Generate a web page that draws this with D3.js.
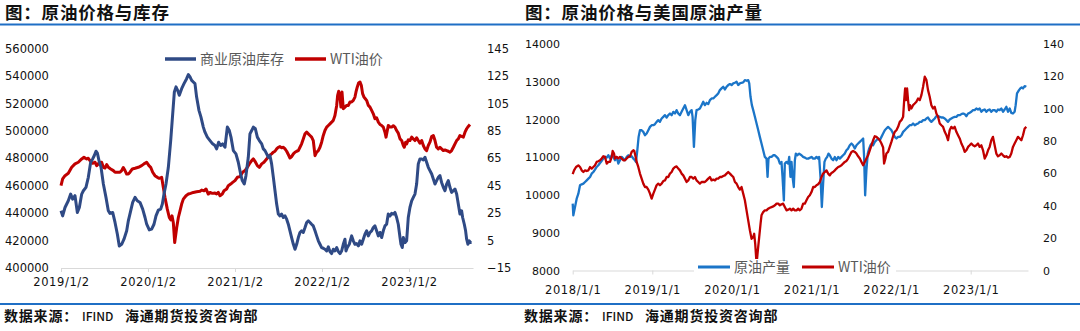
<!DOCTYPE html>
<html><head><meta charset="utf-8">
<script src="https://cdn.jsdelivr.net/npm/d3@7"></script>
<style>body{margin:0;background:#fff}svg{display:block}</style>
</head><body>
<svg id="c" width="1080" height="331"></svg>
<script>
// ---------- DATA (x = decimal year, y = value) ----------
const inventory = [
[2019.000,441700],[2019.019,438000],[2019.046,444100],[2019.084,449000],[2019.111,453900],[2019.134,450200],[2019.161,452700],[2019.188,440500],[2019.211,444100],[2019.238,453900],[2019.257,456300],[2019.287,458800],[2019.314,466100],[2019.341,477100],[2019.364,479500],[2019.383,482000],[2019.402,485100],[2019.418,483700],[2019.437,478300],[2019.460,473400],[2019.487,461200],[2019.517,451500],[2019.544,441700],[2019.563,439800],[2019.594,440500],[2019.621,433200],[2019.648,424600],[2019.670,416100],[2019.697,417300],[2019.724,421000],[2019.755,427100],[2019.774,434400],[2019.801,441700],[2019.824,447800],[2019.851,451500],[2019.877,449000],[2019.908,447800],[2019.939,442900],[2019.966,436800],[2019.985,431900],
[2020.015,427800],[2020.042,428300],[2020.069,431900],[2020.092,438000],[2020.119,442200],[2020.146,442900],[2020.165,446600],[2020.184,453900],[2020.207,461200],[2020.234,473400],[2020.261,492900],[2020.284,512400],[2020.303,528300],[2020.322,532000],[2020.341,529500],[2020.360,525900],[2020.387,530700],[2020.414,534400],[2020.444,538000],[2020.464,541000],[2020.483,539300],[2020.502,536800],[2020.521,535600],[2020.540,534400],[2020.559,524600],[2020.586,514900],[2020.609,510000],[2020.636,502700],[2020.655,499000],[2020.682,495400],[2020.713,492900],[2020.743,490500],[2020.770,489300],[2020.789,486800],[2020.812,491700],[2020.835,489300],[2020.858,490500],[2020.885,488000],[2020.912,502700],[2020.935,500200],[2020.954,495400],[2020.981,485600],
[2021.011,483200],[2021.038,477100],[2021.065,468500],[2021.084,463700],[2021.107,461200],[2021.126,467300],[2021.153,480700],[2021.172,497800],[2021.192,500200],[2021.211,502700],[2021.234,501500],[2021.257,495400],[2021.280,492900],[2021.307,490500],[2021.326,486800],[2021.345,485600],[2021.364,483200],[2021.383,480700],[2021.402,482000],[2021.421,475900],[2021.441,466100],[2021.460,456300],[2021.479,446600],[2021.498,439300],[2021.517,438000],[2021.536,439300],[2021.556,436800],[2021.575,438000],[2021.594,435600],[2021.613,431900],[2021.632,427100],[2021.651,422200],[2021.671,417300],[2021.690,413700],[2021.709,417300],[2021.728,422200],[2021.747,425900],[2021.766,427100],[2021.785,425900],[2021.805,429500],[2021.824,433200],[2021.843,434400],[2021.862,433200],[2021.881,431900],[2021.900,430700],[2021.920,427100],[2021.939,423400],[2021.958,419800],[2021.977,417300],[2021.996,414900],
[2022.015,414400],[2022.034,413700],[2022.054,412400],[2022.073,415400],[2022.092,412000],[2022.111,410500],[2022.130,413700],[2022.149,412400],[2022.169,414900],[2022.188,412000],[2022.207,410500],[2022.226,412400],[2022.245,417300],[2022.264,421000],[2022.276,412400],[2022.291,414900],[2022.314,417300],[2022.341,423400],[2022.360,419800],[2022.379,417300],[2022.398,417800],[2022.418,416100],[2022.437,419800],[2022.456,417300],[2022.475,421000],[2022.494,424600],[2022.513,427100],[2022.533,423400],[2022.552,425900],[2022.571,427100],[2022.590,429500],[2022.609,430700],[2022.628,427100],[2022.648,423400],[2022.667,425900],[2022.686,422200],[2022.705,427100],[2022.724,430700],[2022.743,431900],[2022.762,439300],[2022.782,438000],[2022.801,439800],[2022.820,439300],[2022.839,440500],[2022.858,436800],[2022.877,431900],[2022.897,422200],[2022.908,417300],[2022.923,414900],[2022.935,422200],[2022.954,418500],[2022.973,419800],[2022.992,436800],
[2023.011,444100],[2023.031,449000],[2023.050,451500],[2023.069,453900],[2023.088,461200],[2023.107,475900],[2023.126,479500],[2023.146,479500],[2023.165,478800],[2023.184,480700],[2023.203,477100],[2023.222,473400],[2023.241,471000],[2023.261,468500],[2023.280,464900],[2023.299,461200],[2023.318,463700],[2023.337,466100],[2023.356,467300],[2023.375,462400],[2023.395,458800],[2023.414,456300],[2023.433,461200],[2023.452,463700],[2023.471,458800],[2023.490,455100],[2023.510,456300],[2023.529,457600],[2023.548,453900],[2023.567,446600],[2023.586,439300],[2023.605,441700],[2023.617,436800],[2023.636,431900],[2023.651,427100],[2023.663,421000],[2023.678,417300],[2023.693,419800],[2023.709,418500],[2023.720,418500]
];
const wtiLeft = [
[2019.000,45.0],[2019.019,49.9],[2019.046,52.3],[2019.084,54.0],[2019.123,58.4],[2019.161,60.9],[2019.199,62.1],[2019.238,64.5],[2019.264,65.7],[2019.295,64.5],[2019.314,65.0],[2019.333,63.3],[2019.364,61.3],[2019.391,62.1],[2019.410,59.6],[2019.429,60.9],[2019.441,62.1],[2019.467,62.1],[2019.487,58.4],[2019.506,57.9],[2019.525,60.4],[2019.544,58.4],[2019.571,57.2],[2019.602,56.0],[2019.621,54.8],[2019.648,54.8],[2019.678,54.8],[2019.697,56.0],[2019.716,58.2],[2019.736,56.0],[2019.755,53.5],[2019.774,53.5],[2019.793,54.8],[2019.820,57.2],[2019.851,57.7],[2019.889,58.4],[2019.927,59.6],[2019.954,60.9],[2019.985,62.1],
[2020.011,59.6],[2020.031,58.4],[2020.054,54.8],[2020.080,52.3],[2020.107,51.1],[2020.130,50.4],[2020.157,51.1],[2020.176,43.8],[2020.195,36.5],[2020.222,27.9],[2020.245,21.8],[2020.261,20.1],[2020.276,23.0],[2020.291,18.2],[2020.307,3.5],[2020.330,14.5],[2020.349,21.8],[2020.368,26.7],[2020.387,31.6],[2020.406,35.2],[2020.437,37.7],[2020.464,38.9],[2020.490,39.4],[2020.521,40.1],[2020.559,40.6],[2020.598,40.9],[2020.617,41.8],[2020.644,41.3],[2020.667,42.6],[2020.693,38.9],[2020.713,40.1],[2020.739,39.4],[2020.770,39.6],[2020.789,38.9],[2020.808,40.1],[2020.828,37.7],[2020.854,38.9],[2020.874,41.3],[2020.904,42.6],[2020.923,45.0],[2020.950,46.2],[2020.973,47.4],
[2021.000,48.7],[2021.027,51.1],[2021.057,51.6],[2021.088,54.8],[2021.115,56.0],[2021.142,58.4],[2021.165,60.9],[2021.192,63.3],[2021.211,64.5],[2021.230,62.8],[2021.257,59.6],[2021.280,58.4],[2021.307,60.9],[2021.333,62.1],[2021.364,64.5],[2021.395,67.0],[2021.421,68.2],[2021.441,69.4],[2021.460,70.1],[2021.479,71.8],[2021.498,73.0],[2021.517,73.5],[2021.536,72.6],[2021.556,73.0],[2021.575,71.8],[2021.594,70.1],[2021.613,67.7],[2021.632,65.2],[2021.651,66.2],[2021.671,68.2],[2021.690,69.4],[2021.709,70.1],[2021.728,70.6],[2021.747,73.0],[2021.766,75.5],[2021.785,79.1],[2021.805,82.8],[2021.824,84.0],[2021.843,82.8],[2021.862,81.6],[2021.881,80.4],[2021.900,77.9],[2021.920,66.9],[2021.939,69.4],[2021.958,70.6],[2021.977,73.0],[2021.996,76.7],
[2022.015,81.6],[2022.034,85.2],[2022.054,87.7],[2022.073,88.9],[2022.092,90.1],[2022.111,91.3],[2022.130,92.6],[2022.149,96.2],[2022.169,103.5],[2022.180,110.9],[2022.192,113.8],[2022.207,109.6],[2022.218,102.3],[2022.230,113.3],[2022.245,101.1],[2022.264,102.3],[2022.284,103.5],[2022.303,103.5],[2022.322,106.0],[2022.341,106.0],[2022.360,107.2],[2022.379,109.6],[2022.391,113.3],[2022.406,117.0],[2022.421,119.9],[2022.437,120.6],[2022.452,118.2],[2022.467,112.1],[2022.483,109.6],[2022.498,108.4],[2022.513,107.2],[2022.533,103.5],[2022.552,102.3],[2022.571,99.9],[2022.590,97.4],[2022.609,93.8],[2022.628,94.5],[2022.648,91.3],[2022.667,89.6],[2022.686,88.9],[2022.705,87.7],[2022.724,84.0],[2022.736,80.4],[2022.751,85.2],[2022.762,88.9],[2022.782,87.7],[2022.801,87.7],[2022.820,88.7],[2022.839,87.7],[2022.858,85.2],[2022.877,83.3],[2022.897,79.1],[2022.916,77.9],[2022.935,74.3],[2022.946,73.0],[2022.962,76.7],[2022.973,75.5],[2022.992,78.4],
[2023.011,77.9],[2023.031,80.4],[2023.050,79.1],[2023.069,77.9],[2023.088,79.9],[2023.107,77.9],[2023.126,76.0],[2023.146,77.9],[2023.165,74.3],[2023.184,71.8],[2023.203,70.6],[2023.222,74.3],[2023.241,76.7],[2023.261,80.9],[2023.280,81.6],[2023.299,77.9],[2023.318,73.0],[2023.337,71.8],[2023.356,73.0],[2023.375,71.8],[2023.395,70.6],[2023.414,71.1],[2023.433,70.6],[2023.452,70.1],[2023.471,69.4],[2023.490,70.6],[2023.510,73.0],[2023.529,75.5],[2023.548,77.9],[2023.567,79.1],[2023.586,81.6],[2023.605,80.9],[2023.625,80.4],[2023.644,84.0],[2023.663,86.5],[2023.682,88.2],[2023.701,89.6]
];
const production = [
[2018.000,9770],[2018.008,9460],[2018.029,9681],[2018.050,9902],[2018.071,10035],[2018.092,10256],[2018.113,10283],[2018.134,10301],[2018.155,10345],[2018.176,10389],[2018.197,10433],[2018.218,10478],[2018.238,10566],[2018.259,10610],[2018.280,10672],[2018.301,10743],[2018.322,10788],[2018.343,10849],[2018.364,10903],[2018.385,10964],[2018.406,11009],[2018.427,10991],[2018.448,11053],[2018.469,10964],[2018.490,11053],[2018.510,11009],[2018.531,10920],[2018.552,11009],[2018.573,10832],[2018.594,10920],[2018.615,11009],[2018.636,10964],[2018.657,10920],[2018.678,11009],[2018.699,11053],[2018.720,11009],[2018.741,11026],[2018.762,10964],[2018.782,10920],[2018.795,10876],[2018.812,11186],[2018.828,11540],[2018.845,11717],[2018.866,11717],[2018.887,11672],[2018.908,11584],[2018.929,11628],[2018.950,11717],[2018.971,11805],[2018.992,11849],
[2019.013,11849],[2019.033,11876],[2019.054,11938],[2019.075,11982],[2019.096,11938],[2019.117,12027],[2019.138,12071],[2019.159,12115],[2019.180,12053],[2019.201,12115],[2019.222,12159],[2019.243,12115],[2019.264,12203],[2019.285,12159],[2019.305,12248],[2019.326,12159],[2019.347,12115],[2019.368,12203],[2019.389,12292],[2019.410,12380],[2019.431,12248],[2019.452,12115],[2019.473,12203],[2019.494,12248],[2019.506,12071],[2019.523,11274],[2019.540,11982],[2019.556,12248],[2019.577,12265],[2019.598,12292],[2019.619,12380],[2019.640,12469],[2019.661,12380],[2019.682,12442],[2019.703,12407],[2019.724,12513],[2019.745,12557],[2019.766,12557],[2019.787,12602],[2019.808,12646],[2019.828,12690],[2019.849,12779],[2019.870,12823],[2019.891,12867],[2019.912,12796],[2019.933,12867],[2019.954,12912],[2019.975,12938],[2019.996,12912],
[2020.017,12956],[2020.038,12973],[2020.059,13000],[2020.079,12912],[2020.100,12956],[2020.121,12973],[2020.142,12982],[2020.163,13044],[2020.184,13027],[2020.205,13044],[2020.218,12956],[2020.234,12602],[2020.251,12380],[2020.268,12248],[2020.289,12071],[2020.310,11894],[2020.331,11717],[2020.351,11540],[2020.372,11363],[2020.393,11186],[2020.414,11009],[2020.435,10964],[2020.448,10478],[2020.460,10964],[2020.477,11009],[2020.498,11009],[2020.519,11053],[2020.540,11053],[2020.561,11009],[2020.582,10964],[2020.603,10832],[2020.623,10876],[2020.636,10478],[2020.653,9858],[2020.665,10832],[2020.686,10876],[2020.707,10832],[2020.720,11009],[2020.736,10478],[2020.749,10876],[2020.762,10478],[2020.778,10212],[2020.791,10920],[2020.803,11097],[2020.820,11053],[2020.845,11097],[2020.874,11053],[2020.895,11009],[2020.916,10991],[2020.937,10964],[2020.958,10964],
[2021.000,11009],[2021.021,10964],[2021.042,10964],[2021.063,11009],[2021.084,10964],[2021.096,11009],[2021.113,10478],[2021.130,9681],[2021.146,10301],[2021.163,10876],[2021.180,10964],[2021.197,11009],[2021.213,11097],[2021.230,11053],[2021.251,10964],[2021.272,10920],[2021.293,11009],[2021.314,10920],[2021.335,11009],[2021.356,10964],[2021.377,11009],[2021.397,11053],[2021.418,11097],[2021.439,11186],[2021.460,11230],[2021.481,11318],[2021.502,11363],[2021.523,11318],[2021.544,11230],[2021.565,11318],[2021.586,11363],[2021.607,11407],[2021.628,11451],[2021.649,11496],[2021.661,11009],[2021.674,9991],[2021.690,10655],[2021.707,11097],[2021.724,11230],[2021.741,11318],[2021.757,11363],[2021.774,11318],[2021.795,11407],[2021.816,11451],[2021.837,11496],[2021.858,11451],[2021.879,11540],[2021.900,11628],[2021.921,11717],[2021.941,11761],[2021.962,11805],[2021.983,11761],
[2022.004,11717],[2022.025,11628],[2022.046,11540],[2022.067,11496],[2022.088,11540],[2022.109,11540],[2022.130,11584],[2022.151,11672],[2022.172,11717],[2022.192,11761],[2022.213,11805],[2022.234,11849],[2022.255,11849],[2022.276,11894],[2022.297,11849],[2022.318,11876],[2022.339,11894],[2022.360,11938],[2022.381,11938],[2022.402,11982],[2022.423,11982],[2022.444,12027],[2022.464,12053],[2022.485,11982],[2022.506,11938],[2022.527,11982],[2022.548,12027],[2022.569,12088],[2022.590,12088],[2022.611,12071],[2022.632,12053],[2022.653,12053],[2022.674,12027],[2022.695,11982],[2022.715,11938],[2022.736,12000],[2022.757,12027],[2022.778,12053],[2022.799,12071],[2022.820,12071],[2022.841,12115],[2022.862,12115],[2022.883,12142],[2022.904,12159],[2022.925,12142],[2022.946,12088],[2022.967,12159],[2022.987,12177],
[2023.008,12204],[2023.029,12248],[2023.050,12248],[2023.071,12292],[2023.092,12265],[2023.113,12292],[2023.134,12204],[2023.155,12248],[2023.176,12265],[2023.197,12204],[2023.218,12248],[2023.238,12265],[2023.259,12204],[2023.280,12248],[2023.301,12248],[2023.322,12204],[2023.343,12265],[2023.364,12248],[2023.385,12292],[2023.406,12204],[2023.427,12265],[2023.448,12336],[2023.469,12204],[2023.490,12292],[2023.510,12177],[2023.531,12159],[2023.552,12204],[2023.565,12380],[2023.582,12690],[2023.607,12779],[2023.623,12823],[2023.640,12849],[2023.657,12823],[2023.678,12885],[2023.699,12867]
];
const wtiRight = [
[2018.000,59.5],[2018.017,61.9],[2018.042,64.0],[2018.071,65.0],[2018.092,64.0],[2018.113,61.9],[2018.134,60.9],[2018.155,61.9],[2018.176,61.5],[2018.197,61.9],[2018.218,64.0],[2018.238,63.0],[2018.259,64.0],[2018.280,65.0],[2018.301,67.1],[2018.322,67.5],[2018.343,68.1],[2018.364,69.2],[2018.385,70.6],[2018.406,70.2],[2018.427,66.1],[2018.448,67.1],[2018.469,67.1],[2018.490,70.2],[2018.502,73.9],[2018.519,72.3],[2018.531,69.2],[2018.552,70.2],[2018.573,69.2],[2018.594,70.2],[2018.615,69.2],[2018.636,68.1],[2018.657,68.1],[2018.678,69.2],[2018.699,70.2],[2018.720,70.6],[2018.741,73.3],[2018.762,74.3],[2018.774,73.9],[2018.791,70.2],[2018.803,67.1],[2018.824,64.0],[2018.845,59.9],[2018.866,56.8],[2018.887,53.7],[2018.908,51.6],[2018.929,51.6],[2018.950,50.0],[2018.971,47.5],[2018.992,44.4],
[2019.013,47.5],[2019.033,50.0],[2019.054,52.7],[2019.075,53.7],[2019.096,52.7],[2019.117,53.7],[2019.138,55.3],[2019.159,55.7],[2019.180,57.8],[2019.201,57.8],[2019.222,59.9],[2019.243,60.9],[2019.264,63.0],[2019.285,64.0],[2019.305,64.4],[2019.326,63.0],[2019.347,61.9],[2019.368,59.9],[2019.389,58.8],[2019.410,56.8],[2019.431,54.7],[2019.452,55.7],[2019.473,57.8],[2019.494,57.8],[2019.515,56.8],[2019.536,57.8],[2019.556,55.7],[2019.577,54.7],[2019.598,53.7],[2019.619,54.7],[2019.640,54.7],[2019.661,54.7],[2019.682,55.7],[2019.703,56.8],[2019.724,57.8],[2019.745,55.7],[2019.766,56.2],[2019.787,55.7],[2019.808,56.8],[2019.828,56.8],[2019.849,57.8],[2019.870,57.8],[2019.891,58.4],[2019.912,58.8],[2019.933,59.9],[2019.954,60.9],[2019.975,59.9],[2019.996,58.8],
[2020.017,57.8],[2020.038,54.7],[2020.059,53.7],[2020.079,51.6],[2020.100,50.0],[2020.121,51.6],[2020.142,47.5],[2020.163,43.4],[2020.184,37.2],[2020.205,31.0],[2020.226,24.8],[2020.247,19.6],[2020.268,20.6],[2020.280,22.7],[2020.293,16.5],[2020.310,4.1],[2020.326,12.4],[2020.343,20.6],[2020.360,28.9],[2020.372,34.1],[2020.393,36.1],[2020.414,37.2],[2020.435,37.2],[2020.456,38.2],[2020.477,38.8],[2020.498,39.2],[2020.519,39.6],[2020.540,40.3],[2020.561,41.3],[2020.582,41.3],[2020.603,40.3],[2020.623,40.9],[2020.644,41.3],[2020.665,39.2],[2020.686,37.2],[2020.707,37.6],[2020.728,38.2],[2020.749,37.2],[2020.770,38.2],[2020.791,37.2],[2020.812,37.2],[2020.833,38.2],[2020.854,37.2],[2020.874,38.2],[2020.895,41.3],[2020.916,41.3],[2020.937,43.4],[2020.958,45.4],[2020.979,46.5],
[2021.000,48.5],[2021.021,51.6],[2021.042,51.6],[2021.063,52.7],[2021.084,53.3],[2021.105,54.7],[2021.126,57.8],[2021.146,59.9],[2021.167,60.9],[2021.188,61.9],[2021.209,59.9],[2021.230,58.8],[2021.251,60.3],[2021.272,60.9],[2021.293,61.9],[2021.314,63.0],[2021.335,64.0],[2021.356,64.4],[2021.377,65.0],[2021.397,66.1],[2021.418,67.1],[2021.439,67.7],[2021.460,69.2],[2021.481,71.2],[2021.502,73.3],[2021.523,73.9],[2021.544,73.3],[2021.565,72.3],[2021.586,70.6],[2021.607,69.2],[2021.628,67.1],[2021.649,65.0],[2021.669,67.1],[2021.690,69.2],[2021.711,71.2],[2021.732,74.3],[2021.753,77.4],[2021.774,80.5],[2021.795,83.0],[2021.816,82.6],[2021.837,81.6],[2021.858,80.5],[2021.879,78.5],[2021.900,76.0],[2021.912,66.1],[2021.929,69.2],[2021.941,72.3],[2021.962,73.3],[2021.983,76.4],
[2022.004,79.5],[2022.025,83.0],[2022.046,85.7],[2022.067,86.7],[2022.088,88.8],[2022.109,91.9],[2022.130,92.9],[2022.151,95.0],[2022.163,104.3],[2022.176,112.5],[2022.188,105.3],[2022.201,112.5],[2022.213,105.3],[2022.226,99.1],[2022.238,102.2],[2022.255,100.1],[2022.276,102.2],[2022.297,103.2],[2022.318,104.3],[2022.339,106.3],[2022.360,105.3],[2022.381,108.4],[2022.402,113.6],[2022.423,119.8],[2022.444,117.7],[2022.464,111.5],[2022.485,107.4],[2022.506,102.2],[2022.527,100.1],[2022.548,101.2],[2022.569,97.0],[2022.590,95.0],[2022.611,90.9],[2022.632,89.8],[2022.653,88.8],[2022.674,85.7],[2022.695,83.6],[2022.715,80.5],[2022.736,86.7],[2022.757,88.8],[2022.778,87.8],[2022.799,88.8],[2022.820,85.7],[2022.841,83.6],[2022.862,81.6],[2022.883,78.5],[2022.904,76.4],[2022.925,73.3],[2022.946,74.3],[2022.967,76.4],[2022.987,77.4],
[2023.008,78.5],[2023.029,77.4],[2023.050,76.8],[2023.071,77.4],[2023.092,78.5],[2023.113,76.4],[2023.134,77.4],[2023.155,74.3],[2023.176,69.2],[2023.197,71.2],[2023.218,74.3],[2023.238,76.4],[2023.259,80.5],[2023.280,82.6],[2023.301,77.4],[2023.322,72.3],[2023.343,70.6],[2023.364,71.2],[2023.385,72.3],[2023.406,71.2],[2023.427,70.2],[2023.448,70.6],[2023.469,69.8],[2023.490,70.2],[2023.510,72.3],[2023.531,76.4],[2023.552,78.5],[2023.573,80.5],[2023.594,82.6],[2023.615,81.6],[2023.636,80.5],[2023.657,83.6],[2023.678,87.8],[2023.699,88.8]
];
const leftInvTicks = [400000,420000,440000,460000,480000,500000,520000,540000,560000];
const leftPriceTicks = [-15,5,25,45,65,85,105,125,145];
const leftYearTicks = [2019,2020,2021,2022,2023];
const leftYearLabels = ["2019/1/2","2020/1/2","2021/1/2","2022/1/2","2023/1/2"];
const rightProdTicks = [8000,9000,10000,11000,12000,13000,14000];
const rightPriceTicks = [0,20,40,60,80,100,120,140];
const rightYearTicks = [2018,2019,2020,2021,2022,2023];
const rightYearLabels = ["2018/1/1","2019/1/1","2020/1/1","2021/1/1","2022/1/1","2023/1/1"];
const titles = ["图：原油价格与库存","图：原油价格与美国原油产量"];
const legendLeft = ["商业原油库存","WTI油价"];
const legendRight = ["原油产量","WTI油价"];
const footerParts = ["数据来源：","IFIND","海通期货投资咨询部"];

// ---------- DRAW ----------
const svg = d3.select("#c");
const CJK = "'Noto Sans CJK SC','Noto Sans',sans-serif";
const NUM = "'DejaVu Sans',Verdana,sans-serif";
const RED = "#C00000";

svg.append("rect").attr("width",1080).attr("height",331).attr("fill","#fff");
// header & footer rules
svg.append("line").attr("x1",0).attr("x2",1080).attr("y1",24.5).attr("y2",24.5).attr("stroke","#1F6FC5").attr("stroke-width",2);
svg.append("line").attr("x1",0).attr("x2",1080).attr("y1",304).attr("y2",304).attr("stroke","#1F6FC5").attr("stroke-width",2);
[[5,titles[0]],[525,titles[1]]].forEach(([x,t])=>{
  svg.append("text").attr("x",x).attr("y",19).text(t)
    .attr("font-family",CJK).attr("font-size",17.5).attr("font-weight",700).attr("fill","#111").attr("letter-spacing",0.8);
});
[4,524].forEach(x0=>{
  const t = svg.append("text").attr("y",321).attr("font-family",CJK).attr("font-weight",700).attr("fill","#111");
  t.append("tspan").attr("x",x0).attr("font-size",14).attr("letter-spacing",0.8).text(footerParts[0]);
  t.append("tspan").attr("x",x0+78).attr("font-size",12).attr("font-weight",500).text(footerParts[1]);
  t.append("tspan").attr("x",x0+121).attr("font-size",14).attr("letter-spacing",0.8).text(footerParts[2]);
});

function styleAxisText(g, size){
  g.selectAll("text").attr("font-family",NUM).attr("font-size",size).attr("fill","#111");
}

// ===== Left chart =====
{
  const x = d3.scaleLinear().domain([2019, 2023.736]).range([61, 473]);
  const yL = d3.scaleLinear().domain([400000,560000]).range([268,48.5]);
  const yR = d3.scaleLinear().domain([-15,145]).range([268,48.5]);

  const gx = svg.append("g").attr("transform","translate(0,268)")
    .call(d3.axisBottom(x).tickValues(leftYearTicks).tickFormat((d,i)=>leftYearLabels[i]).tickSizeInner(4).tickSizeOuter(0));
  gx.select(".domain").attr("stroke","#d9d9d9");
  gx.selectAll(".tick line").attr("stroke","#d9d9d9");
  styleAxisText(gx, 11.5);
  gx.selectAll("text").attr("y",10).attr("dy","0.71em").attr("letter-spacing",0.6);

  const gl = svg.append("g").attr("transform","translate(5,0)")
    .call(d3.axisLeft(yL).tickValues(leftInvTicks).tickSize(0).tickFormat(d3.format("d")));
  gl.select(".domain").remove();
  styleAxisText(gl, 11.5);
  gl.selectAll("text").attr("x",0).attr("text-anchor","start");

  const gr = svg.append("g").attr("transform","translate(487,0)")
    .call(d3.axisRight(yR).tickValues(leftPriceTicks).tickSize(0).tickFormat(d3.format("d")));
  gr.select(".domain").remove();
  styleAxisText(gr, 11.5);
  gr.selectAll("text").attr("x",0).attr("text-anchor","start");

  svg.append("path").datum(wtiLeft).attr("fill","none").attr("stroke",RED).attr("stroke-width",3).attr("stroke-linejoin","round")
    .attr("d",d3.line().x(d=>x(d[0])).y(d=>yR(d[1])));
  svg.append("path").datum(inventory).attr("fill","none").attr("stroke","#2F4A85").attr("stroke-width",3).attr("stroke-linejoin","round")
    .attr("d",d3.line().x(d=>x(d[0])).y(d=>yL(d[1])));

  const leg = [[165,"#2F4A85",legendLeft[0]],[295,RED,legendLeft[1]]];
  leg.forEach(([lx,c,t])=>{
    svg.append("line").attr("x1",lx).attr("x2",lx+31).attr("y1",59).attr("y2",59).attr("stroke",c).attr("stroke-width",3.5);
    svg.append("text").attr("x",lx+35).attr("y",64).text(t).attr("font-family",CJK).attr("font-size",14).attr("fill","#595959");
  });
}

// ===== Right chart =====
{
  const x = d3.scaleLinear().domain([2018, 2023.72]).range([572.7, 1028]);
  const yL = d3.scaleLinear().domain([8000,14000]).range([270.5,44]);
  const yR = d3.scaleLinear().domain([0,140]).range([270.5,44]);

  const gx = svg.append("g").attr("transform","translate(0,270.5)")
    .call(d3.axisBottom(x).tickValues(rightYearTicks).tickFormat((d,i)=>rightYearLabels[i]).tickSizeInner(4).tickSizeOuter(0));
  gx.select(".domain").attr("stroke","#d9d9d9");
  gx.selectAll(".tick line").attr("stroke","#d9d9d9");
  styleAxisText(gx, 11.5);
  gx.selectAll("text").attr("y",15).attr("dy","0.71em").attr("letter-spacing",0.6);

  const gl = svg.append("g").attr("transform","translate(560,0)")
    .call(d3.axisLeft(yL).tickValues(rightProdTicks).tickSize(0).tickFormat(d3.format("d")));
  gl.select(".domain").remove();
  styleAxisText(gl, 11);
  gl.selectAll("text").attr("x",0).attr("text-anchor","end");

  const gr = svg.append("g").attr("transform","translate(1043,0)")
    .call(d3.axisRight(yR).tickValues(rightPriceTicks).tickSize(0).tickFormat(d3.format("d")));
  gr.select(".domain").remove();
  styleAxisText(gr, 11);
  gr.selectAll("text").attr("x",0).attr("text-anchor","start");

  svg.append("path").datum(production).attr("fill","none").attr("stroke","#1B75C8").attr("stroke-width",2.3).attr("stroke-linejoin","round")
    .attr("d",d3.line().x(d=>x(d[0])).y(d=>yL(d[1])));
  svg.append("path").datum(wtiRight).attr("fill","none").attr("stroke",RED).attr("stroke-width",2.3).attr("stroke-linejoin","round")
    .attr("d",d3.line().x(d=>x(d[0])).y(d=>yR(d[1])));

  svg.append("rect").attr("x",694).attr("y",259).attr("width",202).attr("height",16).attr("fill","#fff");
  const leg = [[698,"#1B75C8",legendRight[0]],[802,RED,legendRight[1]]];
  leg.forEach(([lx,c,t])=>{
    svg.append("line").attr("x1",lx).attr("x2",lx+32).attr("y1",267).attr("y2",267).attr("stroke",c).attr("stroke-width",3);
    svg.append("text").attr("x",lx+36).attr("y",272).text(t).attr("font-family",CJK).attr("font-size",14).attr("fill","#595959");
  });
}
</script>
</body></html>
